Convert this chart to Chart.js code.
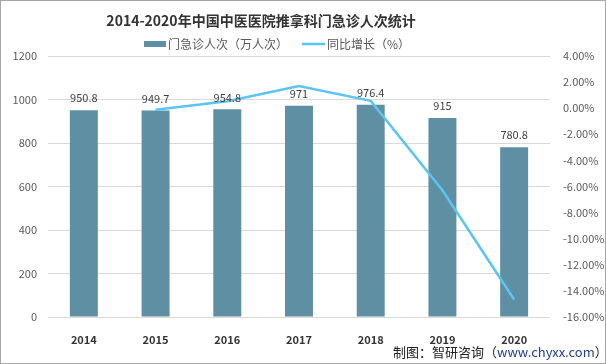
<!DOCTYPE html>
<html>
<head>
<meta charset="utf-8">
<script src="https://cdn.jsdelivr.net/npm/chart.js@4"></script>
<style>
  html, body { margin: 0; padding: 0; background: #fff; }
  #wrap { width: 606px; height: 364px; }
</style>
</head>
<body>
<div id="wrap"><canvas id="chart" width="606" height="364"></canvas></div>
<script>
// data
const years = ["2014", "2015", "2016", "2017", "2018", "2019", "2020"];
const visits = [950.8, 949.7, 954.8, 971, 976.4, 915, 780.8];        // 门急诊人次（万人次）
const growth = [null, -0.12, 0.54, 1.70, 0.56, -6.29, -14.66];       // 同比增长（%）

const titleText = "2014-2020年中国中医医院推拿科门急诊人次统计";
const barLabel = "门急诊人次（万人次）";
const lineLabel = "同比增长（%）";

const BAR_COLOR = "#5F8FA3";
const LINE_COLOR = "#5BC5F2";
const FONT = "'Noto Sans CJK SC', 'Noto Sans', sans-serif";

// title, legend, bar value labels, footer, frame
const decor = {
  id: "decor",
  afterDatasetsDraw(chart) {
    const c = chart.ctx;
    c.save();
    c.fillStyle = "#404040";
    c.font = "11px " + FONT;
    c.textAlign = "center";
    c.textBaseline = "middle";
    chart.getDatasetMeta(0).data.forEach((bar, i) => {
      c.fillText(String(visits[i]), bar.x, bar.y - 12);
    });
    c.restore();
  },
  afterDraw(chart) {
    const c = chart.ctx;
    c.save();
    // title
    c.fillStyle = "#333333";
    c.font = "bold 14px " + FONT;
    c.textAlign = "center";
    c.textBaseline = "middle";
    c.fillText(titleText, 261, 21);

    // legend
    c.font = "12px " + FONT;
    c.textAlign = "left";
    c.fillStyle = BAR_COLOR;
    c.fillRect(144, 41, 22, 6);
    c.fillStyle = "#595959";
    c.fillText(barLabel, 168, 44);
    c.strokeStyle = LINE_COLOR;
    c.lineWidth = 2.5;
    c.beginPath();
    c.moveTo(302, 44);
    c.lineTo(325, 44);
    c.stroke();
    c.fillText(lineLabel, 327, 44);

    // footer
    c.font = "13px " + FONT;
    c.textAlign = "left";
    c.textBaseline = "middle";
    let x = 393;
    const y = 352;
    const parts = [["制图：智研咨询（", "#222222"], ["www.chyxx.com", "#1F3F8F"], ["）", "#222222"]];
    parts.forEach(([t, col]) => {
      c.fillStyle = col;
      c.fillText(t, x, y);
      x += c.measureText(t).width;
    });

    // frame
    c.strokeStyle = "#A6A6A6";
    c.lineWidth = 1;
    c.strokeRect(0.5, 0.5, 605, 363);
    c.restore();
  }
};

new Chart(document.getElementById("chart"), {
  data: {
    labels: years,
    datasets: [
      {
        type: "bar",
        label: barLabel,
        data: visits,
        backgroundColor: BAR_COLOR,
        yAxisID: "y",
        barPercentage: 0.78,
        categoryPercentage: 0.5,
        order: 1
      },
      {
        type: "line",
        label: lineLabel,
        data: growth,
        borderColor: LINE_COLOR,
        borderWidth: 2.5,
        pointRadius: 0,
        tension: 0,
        yAxisID: "y1",
        order: 0
      }
    ]
  },
  options: {
    responsive: false,
    animation: false,
    layout: { padding: { top: 56, left: 0, right: 0, bottom: 0 } },
    plugins: {
      legend: { display: false },
      title: { display: false },
      tooltip: { enabled: false }
    },
    scales: {
      x: {
        grid: { display: false },
        border: { display: false },
        ticks: {
          color: "#333333",
          font: { family: FONT, size: 11, weight: "bold" },
          padding: 8
        },
        afterFit(axis) { axis.height = 47; }
      },
      y: {
        position: "left",
        min: 0,
        max: 1200,
        ticks: {
          stepSize: 200,
          color: "#595959",
          font: { family: FONT, size: 11 },
          padding: 11,
          callback: v => String(v)
        },
        grid: { color: "#D9D9D9", drawTicks: false },
        border: { display: false },
        afterFit(axis) { axis.width = 48; }
      },
      y1: {
        position: "right",
        min: -16,
        max: 4,
        ticks: {
          stepSize: 2,
          color: "#595959",
          font: { family: FONT, size: 11 },
          padding: 13,
          callback: v => v.toFixed(2) + "%"
        },
        grid: { display: false, drawTicks: false },
        border: { display: false },
        afterFit(axis) { axis.width = 56; }
      }
    }
  },
  plugins: [decor]
});
</script>
</body>
</html>
